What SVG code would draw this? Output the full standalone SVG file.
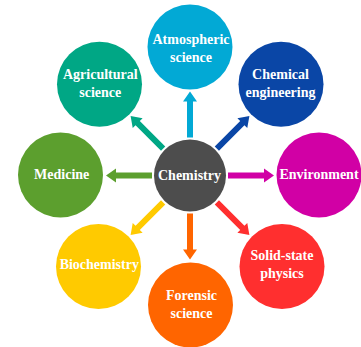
<svg xmlns="http://www.w3.org/2000/svg" width="361" height="347" viewBox="0 0 361 347">
<style>
text{font-family:"Liberation Serif","Times New Roman",serif;font-weight:bold;font-size:14px;fill:#fff;text-anchor:middle}
</style>
<defs>
<path id="arr" d="M38,-3 H74 V-7 L84,0 L74,7 V3 H38 Z"/>
</defs>
<rect width="361" height="347" fill="#fff"/>
<g id="connectors">
<use href="#arr" transform="translate(190,175.5) rotate(-90)" fill="#02A9D5"/>
<use href="#arr" transform="translate(190,175.5) rotate(-45)" fill="#0A46A6"/>
<use href="#arr" transform="translate(190,175.5)" fill="#D100A5"/>
<use href="#arr" transform="translate(190,175.5) rotate(45)" fill="#FF2F2F"/>
<use href="#arr" transform="translate(190,175.5) rotate(90)" fill="#FF6500"/>
<use href="#arr" transform="translate(190,175.5) rotate(135)" fill="#FFCA00"/>
<use href="#arr" transform="translate(190,175.5) rotate(180)" fill="#5C9F2E"/>
<use href="#arr" transform="translate(190,175.5) rotate(-135)" fill="#00A785"/>
</g>
<g id="chemistry">
<circle cx="190" cy="175.5" r="36" fill="#4D4D4D"/>
<text x="189.5" y="180">Chemistry</text>
</g>
<g id="atmospheric">
<circle cx="190" cy="47" r="42.5" fill="#02A9D5"/>
<text x="191" y="44">Atmospheric</text>
<text x="191" y="61.7">science</text>
</g>
<g id="chemical-engineering">
<circle cx="281" cy="84.3" r="42.5" fill="#0A46A6"/>
<text x="280.5" y="79">Chemical</text>
<text x="280.5" y="96.7">engineering</text>
</g>
<g id="environment">
<circle cx="319" cy="175" r="42.5" fill="#D100A5"/>
<text x="319" y="179">Environment</text>
</g>
<g id="solid-state">
<circle cx="282" cy="266.5" r="42.5" fill="#FF2F2F"/>
<text x="282" y="260">Solid-state</text>
<text x="282" y="277.7">physics</text>
</g>
<g id="forensic">
<circle cx="190.5" cy="305" r="42.5" fill="#FF6500"/>
<text x="191.5" y="300">Forensic</text>
<text x="191.5" y="318.3">science</text>
</g>
<g id="biochemistry">
<circle cx="98.5" cy="266.5" r="42.5" fill="#FFCA00"/>
<text x="99.3" y="269.3">Biochemistry</text>
</g>
<g id="medicine">
<circle cx="60.5" cy="175" r="42.5" fill="#5C9F2E"/>
<text x="61.7" y="179">Medicine</text>
</g>
<g id="agricultural">
<circle cx="99.5" cy="84.3" r="42.5" fill="#00A785"/>
<text x="100.3" y="79">Agricultural</text>
<text x="100.3" y="96.7">science</text>
</g>
</svg>
